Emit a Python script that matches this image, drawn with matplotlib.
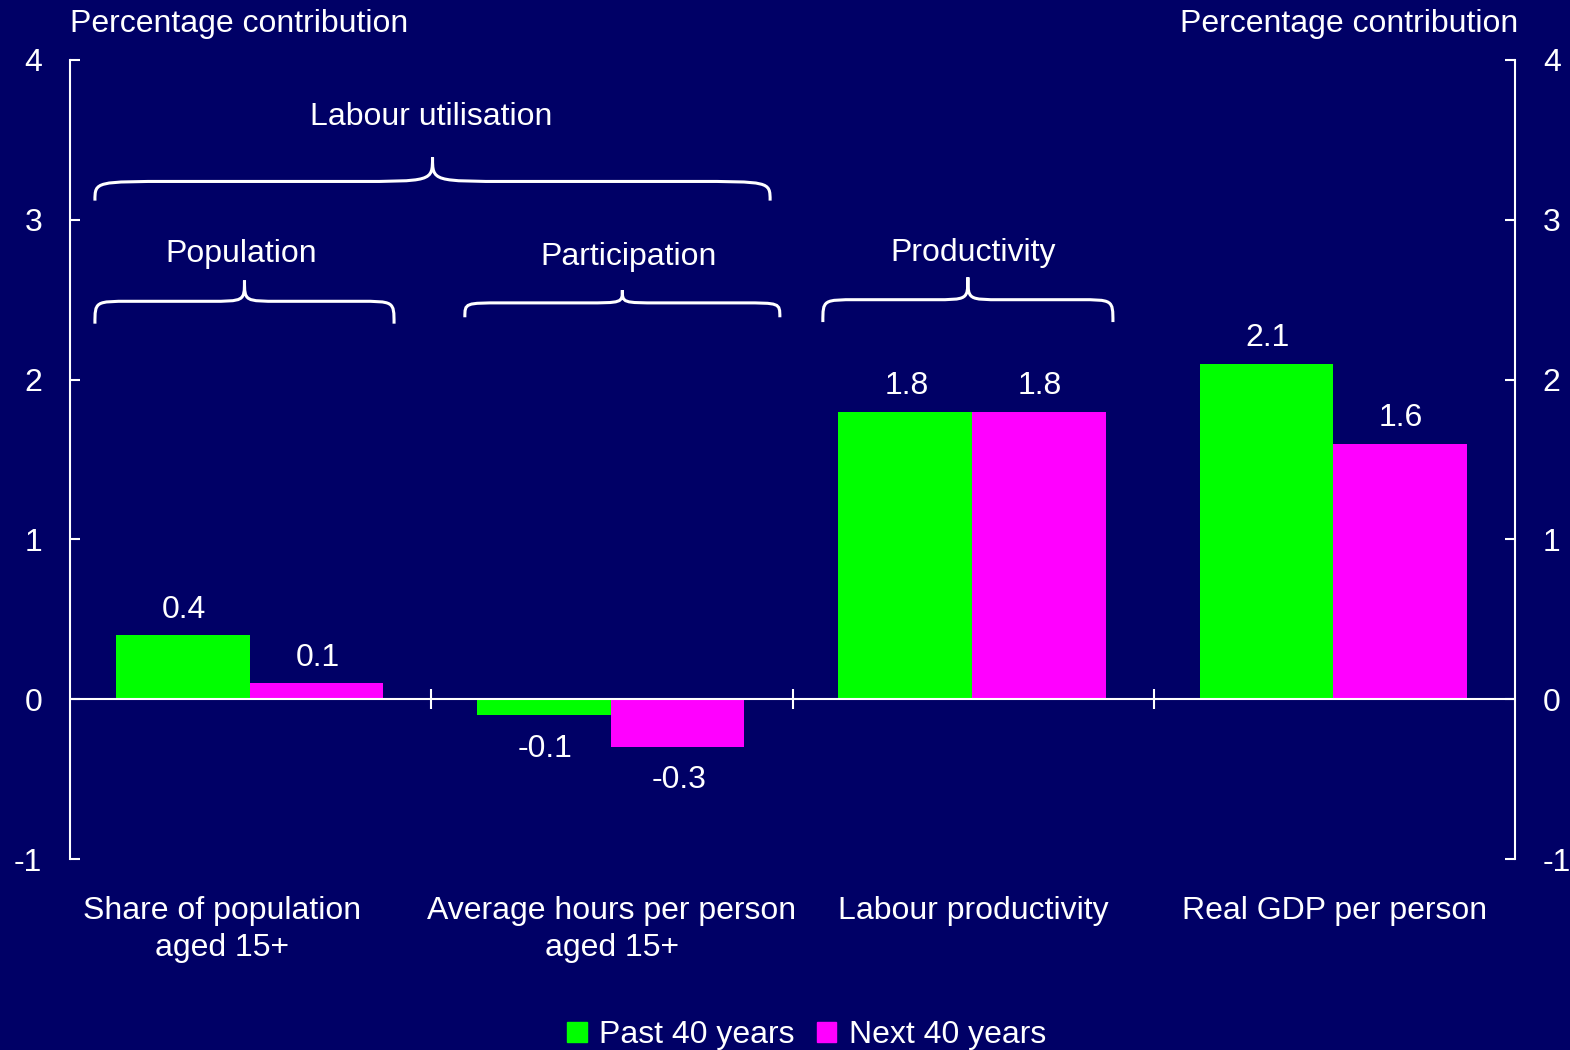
import matplotlib
matplotlib.use("Agg")
import matplotlib.pyplot as plt
from matplotlib.path import Path
from matplotlib.patches import PathPatch, Patch
import numpy as np

categories = ["Share of population\naged 15+", "Average hours per person\naged 15+",
              "Labour productivity", "Real GDP per person"]
past = [0.4, -0.1, 1.8, 2.1]
nxt = [0.1, -0.3, 1.8, 1.6]
series_names = ["Past 40 years", "Next 40 years"]

BG = "#000066"
GREEN = "#00ff00"
MAGENTA = "#ff00ff"
FS = 23

plt.rcParams['font.family'] = ['Liberation Sans', 'DejaVu Sans']
plt.rcParams['axes.unicode_minus'] = False

fig = plt.figure(figsize=(15.7, 10.5), dpi=100, facecolor=BG)
ax = fig.add_axes([0.04459, 0.1819, 0.92038, 0.76096], facecolor=BG)

x = np.arange(len(categories)) + 0.5
w = 0.37
ax.bar(x - w / 2 - 0.003, past, w, color=GREEN, label=series_names[0])
ax.bar(x + w / 2 - 0.003, nxt, w, color=MAGENTA, label=series_names[1])

# value labels above positive bars, below negative ones
for xi, a, b in zip(x, past, nxt):
    for xx, v in ((xi - w / 2, a), (xi + w / 2, b)):
        off = 18.5 if v >= 0 else -24
        ax.annotate(f"{v:.1f}", (xx, v), xytext=(0, off), textcoords="offset points",
                    ha="center", va="center", color="white", fontsize=FS)

ax.set_xlim(0, 4)
ax.set_ylim(-1, 4)
ax.axhline(0, color="white", lw=1.5)
ax.plot([1, 2, 3], [0, 0, 0], ls="none", marker="|", ms=15, mew=1.5, color="white")

for s in ("top", "bottom"):
    ax.spines[s].set_visible(False)
for s in ("left", "right"):
    ax.spines[s].set_color("white")
    ax.spines[s].set_linewidth(1.5)
ax.set_xticks([])
ax.set_yticks(range(-1, 5))
ax.tick_params(axis="y", direction="in", length=7, width=1.5, color="white",
               labelcolor="white", labelsize=FS, pad=20, left=True, right=True,
               labelleft=True, labelright=True)

trans = ax.get_xaxis_transform()
for xi, c in zip(x, categories):
    ax.text(xi - (0.08 if xi < 1 else 0), -0.046, c, transform=trans, ha="center", va="top",
            color="white", fontsize=FS, linespacing=1.3)

fig.text(70 / 1570, 1 - 24 / 1050, "Percentage contribution", ha="left", va="center",
         color="white", fontsize=FS)
fig.text(1518 / 1570, 1 - 24 / 1050, "Percentage contribution", ha="right", va="center",
         color="white", fontsize=FS)


def brace(x0, x1, yend, yflat, ytip):
    xm = (x0 + x1) / 2
    r = (x1 - x0) * 0.12
    verts = [(x0, yend), (x0, yflat), (x0, yflat), (x0 + r, yflat),
             (xm - r, yflat), (xm, yflat), (xm, yflat), (xm, ytip),
             (xm, yflat), (xm, yflat), (xm + r, yflat),
             (x1 - r, yflat), (x1, yflat), (x1, yflat), (x1, yend)]
    codes = [Path.MOVETO, Path.CURVE4, Path.CURVE4, Path.CURVE4,
             Path.LINETO, Path.CURVE4, Path.CURVE4, Path.CURVE4,
             Path.CURVE4, Path.CURVE4, Path.CURVE4,
             Path.LINETO, Path.CURVE4, Path.CURVE4, Path.CURVE4]
    ax.add_patch(PathPatch(Path(verts, codes), fill=False, ec="white", lw=2.2,
                           clip_on=False))


brace(0.069, 1.938, 3.12, 3.24, 3.39)
brace(0.069, 0.897, 2.35, 2.49, 2.62)
brace(1.093, 1.965, 2.39, 2.48, 2.56)
brace(2.084, 2.887, 2.36, 2.50, 2.64)

ax.text(1.0, 3.645, "Labour utilisation", ha="center", va="center", color="white", fontsize=FS)
ax.text(0.475, 2.785, "Population", ha="center", va="center", color="white", fontsize=FS)
ax.text(1.545, 2.765, "Participation", ha="center", va="center", color="white", fontsize=FS)
ax.text(2.5, 2.795, "Productivity", ha="center", va="center", color="white", fontsize=FS)

handles = [Patch(color=GREEN), Patch(color=MAGENTA)]
fig.legend(handles, series_names, loc="center", bbox_to_anchor=(0.514, 1 - 1035 / 1050),
           ncol=2, frameon=False, fontsize=FS, labelcolor="white", handlelength=0.6,
           handleheight=0.6, handletextpad=0.4, columnspacing=0.7)

fig.savefig("out.png", facecolor=BG)
